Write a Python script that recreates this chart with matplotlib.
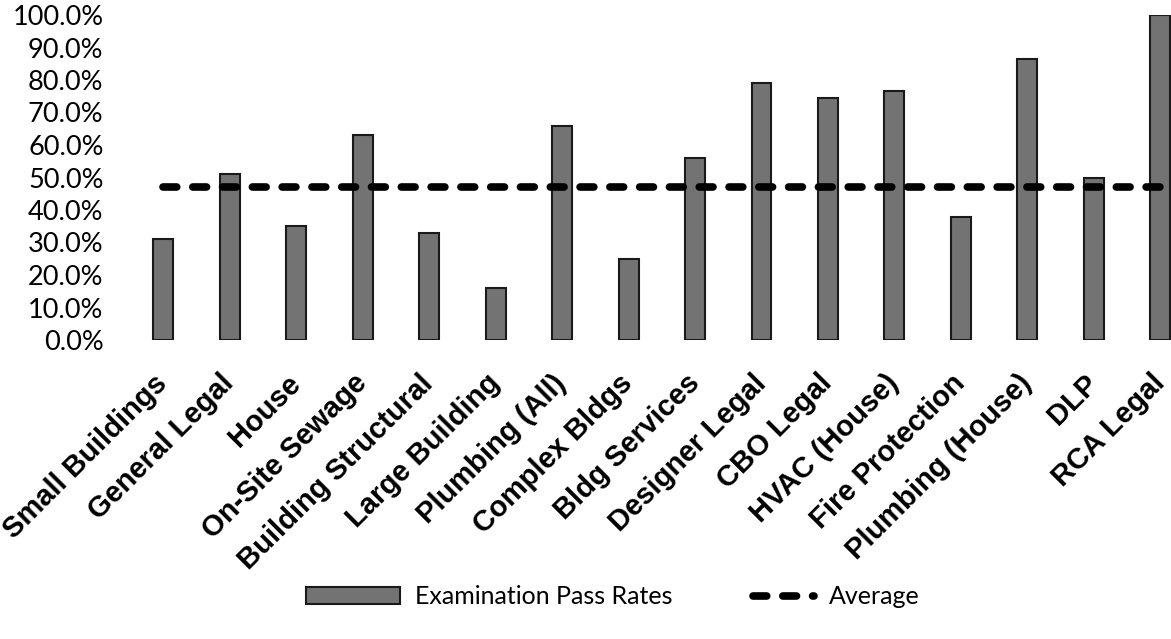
import matplotlib.pyplot as plt
import matplotlib.transforms as mtransforms
from matplotlib.legend_handler import HandlerLine2D
from matplotlib.ticker import FuncFormatter

# Examination pass rates per exam, plus the overall average
categories = ['Small Buildings', 'General Legal', 'House', 'On-Site Sewage',
              'Building Structural', 'Large Building', 'Plumbing (All)',
              'Complex Bldgs', 'Bldg Services', 'Designer Legal', 'CBO Legal',
              'HVAC (House)', 'Fire Protection', 'Plumbing (House)', 'DLP',
              'RCA Legal']
pass_rates = [0.31, 0.51, 0.35, 0.63, 0.33, 0.16, 0.66, 0.25, 0.56, 0.79,
              0.745, 0.765, 0.38, 0.865, 0.50, 1.00]
average_rate = 0.472

fig = plt.figure(figsize=(11.71, 6.39), dpi=100)
ax = fig.add_axes([130 / 1171, 1 - 340 / 639, 1041 / 1171, 325 / 639])

x = list(range(len(categories)))
bars = ax.bar(x, pass_rates, width=0.3, color='#737373', edgecolor='#1a1a1a',
              linewidth=1.5, label='Examination Pass Rates', zorder=2)
avg_line, = ax.plot(x, [average_rate] * len(x), color='black', linewidth=5.5,
                    linestyle=(0, (1.8, 2.1)), dash_capstyle='round',
                    label='Average', zorder=3)

ax.set_xlim(-0.5, 15.16)
ax.set_ylim(0, 1.0)
ax.set_yticks([i / 10 for i in range(11)])
ax.yaxis.set_major_formatter(FuncFormatter(lambda v, _: f'{v:.1%}'))
ax.tick_params(axis='y', length=0, pad=19, labelsize=19.5)
for lbl in ax.get_yticklabels():
    lbl.set_fontfamily('Lato')

ax.set_xticks(x)
ax.set_xticklabels(categories, rotation=45, ha='right', va='center',
                   rotation_mode='anchor', fontsize=21, fontweight='bold',
                   fontfamily='Liberation Sans')
ax.tick_params(axis='x', length=0, pad=0)
shift = mtransforms.ScaledTranslation(0, -39 / 100, fig.dpi_scale_trans)
for lbl in ax.get_xticklabels():
    lbl.set_transform(lbl.get_transform() + shift)

for side in ax.spines.values():
    side.set_visible(False)

# the line's legend key is shorter than the bar swatch
fig.legend(handles=[bars, avg_line], loc='center',
           bbox_to_anchor=(0.5235, 0.066), ncol=2,
           frameon=False, handlelength=3.76, handleheight=0.7,
           handletextpad=0.6, columnspacing=1.9,
           handler_map={avg_line: HandlerLine2D(xpad=1.3)},
           prop={'family': 'Lato', 'size': 18})

fig.savefig('out.png', dpi=100)
